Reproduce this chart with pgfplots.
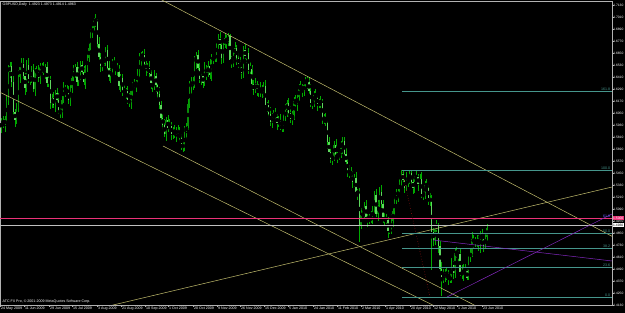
\documentclass[border=0pt]{standalone}
\usepackage{pgfplots}
\pgfplotsset{compat=1.18}
\usepackage{pgfplotstable}
\usepackage{fontspec}
\setmainfont{Liberation Sans}
\definecolor{wickc}{RGB}{0,170,0}
\definecolor{bullc}{RGB}{10,140,10}
\definecolor{bearc}{RGB}{95,215,95}
\definecolor{trendc}{RGB}{195,190,110}
\definecolor{fibc}{RGB}{70,150,140}
\definecolor{pinkc}{RGB}{235,50,120}
\definecolor{purpc}{RGB}{130,40,190}
\definecolor{redd}{RGB}{150,20,20}
\newcommand{\mtfont}{\fontsize{3.6}{4}\selectfont}
\newcommand{\prfont}{\fontsize{3.3}{4}\selectfont}
\pgfplotstableread{
i o h l c
0 1.5900 1.6000 1.5850 1.5960
1 1.5960 1.6020 1.5900 1.5930
2 1.5930 1.6020 1.5860 1.5990
3 1.5990 1.6220 1.5945 1.6170
4 1.6170 1.6530 1.6130 1.6460
5 1.6460 1.6555 1.6400 1.6520
6 1.6520 1.6560 1.6310 1.6360
7 1.6360 1.6420 1.6030 1.6060
8 1.6060 1.6090 1.5910 1.5980
9 1.5980 1.6150 1.5935 1.6100
10 1.6100 1.6480 1.6060 1.6410
11 1.6410 1.6545 1.6350 1.6510
12 1.6510 1.6600 1.6460 1.6540
13 1.6540 1.6600 1.6390 1.6420
14 1.6420 1.6450 1.6230 1.6300
15 1.6300 1.6580 1.6255 1.6530
16 1.6530 1.6600 1.6350 1.6390
17 1.6390 1.6435 1.6330 1.6400
18 1.6400 1.6520 1.6350 1.6480
19 1.6480 1.6540 1.6260 1.6290
20 1.6290 1.6500 1.6220 1.6470
21 1.6470 1.6520 1.6415 1.6460
22 1.6460 1.6530 1.6360 1.6400
23 1.6400 1.6545 1.6340 1.6510
24 1.6510 1.6550 1.6450 1.6500
25 1.6500 1.6560 1.6430 1.6460
26 1.6460 1.6540 1.6390 1.6510
27 1.6510 1.6560 1.6305 1.6350
28 1.6350 1.6450 1.6310 1.6380
29 1.6380 1.6415 1.6090 1.6150
30 1.6150 1.6240 1.6100 1.6200
31 1.6200 1.6260 1.6100 1.6130
32 1.6130 1.6280 1.6060 1.6250
33 1.6250 1.6300 1.6135 1.6180
34 1.6180 1.6250 1.6040 1.6080
35 1.6080 1.6115 1.6000 1.6050
36 1.6050 1.6220 1.6000 1.6180
37 1.6180 1.6360 1.6150 1.6300
38 1.6300 1.6330 1.6210 1.6280
39 1.6280 1.6330 1.6205 1.6250
40 1.6250 1.6320 1.6140 1.6180
41 1.6180 1.6335 1.6120 1.6300
42 1.6300 1.6440 1.6250 1.6400
43 1.6400 1.6530 1.6370 1.6470
44 1.6470 1.6540 1.6400 1.6510
45 1.6510 1.6560 1.6315 1.6360
46 1.6360 1.6510 1.6320 1.6440
47 1.6440 1.6565 1.6380 1.6530
48 1.6530 1.6570 1.6410 1.6460
49 1.6460 1.6520 1.6330 1.6360
50 1.6360 1.6530 1.6290 1.6500
51 1.6500 1.6650 1.6455 1.6600
52 1.6600 1.6770 1.6560 1.6700
53 1.6700 1.6885 1.6640 1.6850
54 1.6850 1.6940 1.6800 1.6900
55 1.6900 1.7000 1.6870 1.6980
56 1.6980 1.7035 1.6910 1.6970
57 1.6970 1.6990 1.6700 1.6740
58 1.6740 1.6810 1.6570 1.6610
59 1.6610 1.6645 1.6460 1.6520
60 1.6520 1.6590 1.6470 1.6550
61 1.6550 1.6650 1.6520 1.6590
62 1.6590 1.6710 1.6520 1.6680
63 1.6680 1.6730 1.6455 1.6500
64 1.6500 1.6570 1.6370 1.6410
65 1.6410 1.6515 1.6350 1.6480
66 1.6480 1.6590 1.6430 1.6550
67 1.6550 1.6610 1.6500 1.6530
68 1.6530 1.6560 1.6430 1.6500
69 1.6500 1.6550 1.6415 1.6460
70 1.6460 1.6530 1.6280 1.6320
71 1.6320 1.6435 1.6260 1.6400
72 1.6400 1.6440 1.6220 1.6270
73 1.6270 1.6330 1.6230 1.6260
74 1.6260 1.6300 1.6190 1.6270
75 1.6270 1.6320 1.6135 1.6180
76 1.6180 1.6250 1.6110 1.6150
77 1.6150 1.6305 1.6090 1.6270
78 1.6270 1.6360 1.6220 1.6320
79 1.6320 1.6390 1.6290 1.6330
80 1.6330 1.6390 1.6260 1.6360
81 1.6360 1.6490 1.6315 1.6440
82 1.6440 1.6650 1.6400 1.6580
83 1.6580 1.6655 1.6520 1.6620
84 1.6620 1.6670 1.6570 1.6630
85 1.6630 1.6690 1.6510 1.6540
86 1.6540 1.6570 1.6420 1.6490
87 1.6490 1.6550 1.6445 1.6500
88 1.6500 1.6570 1.6400 1.6440
89 1.6440 1.6475 1.6290 1.6350
90 1.6350 1.6390 1.6260 1.6310
91 1.6310 1.6480 1.6280 1.6420
92 1.6420 1.6450 1.6260 1.6330
93 1.6330 1.6380 1.6195 1.6240
94 1.6240 1.6310 1.6090 1.6130
95 1.6130 1.6165 1.5940 1.6000
96 1.6000 1.6040 1.5880 1.5930
97 1.5930 1.5990 1.5810 1.5840
98 1.5840 1.6010 1.5770 1.5980
99 1.5980 1.6030 1.5855 1.5900
100 1.5900 1.5990 1.5860 1.5920
101 1.5920 1.5955 1.5780 1.5840
102 1.5840 1.5910 1.5790 1.5870
103 1.5870 1.5930 1.5800 1.5830
104 1.5830 1.5910 1.5760 1.5880
105 1.5880 1.5930 1.5795 1.5840
106 1.5840 1.5910 1.5760 1.5800
107 1.5800 1.5835 1.5680 1.5740
108 1.5740 1.5780 1.5660 1.5700
109 1.5700 1.5920 1.5670 1.5860
110 1.5860 1.5950 1.5790 1.5920
111 1.5920 1.6190 1.5875 1.6140
112 1.6140 1.6370 1.6100 1.6300
113 1.6300 1.6405 1.6240 1.6370
114 1.6370 1.6410 1.6280 1.6330
115 1.6330 1.6620 1.6300 1.6560
116 1.6560 1.6660 1.6490 1.6630
117 1.6630 1.6680 1.6455 1.6500
118 1.6500 1.6570 1.6350 1.6390
119 1.6390 1.6455 1.6330 1.6420
120 1.6420 1.6460 1.6300 1.6350
121 1.6350 1.6560 1.6320 1.6500
122 1.6500 1.6530 1.6380 1.6450
123 1.6450 1.6570 1.6405 1.6520
124 1.6520 1.6590 1.6390 1.6430
125 1.6430 1.6635 1.6370 1.6600
126 1.6600 1.6640 1.6540 1.6590
127 1.6590 1.6690 1.6560 1.6630
128 1.6630 1.6760 1.6560 1.6730
129 1.6730 1.6840 1.6685 1.6790
130 1.6790 1.6860 1.6690 1.6730
131 1.6730 1.6765 1.6540 1.6600
132 1.6600 1.6770 1.6550 1.6730
133 1.6730 1.6850 1.6700 1.6800
134 1.6800 1.6830 1.6690 1.6760
135 1.6760 1.6850 1.6715 1.6820
136 1.6820 1.6840 1.6540 1.6580
137 1.6580 1.6615 1.6500 1.6560
138 1.6560 1.6680 1.6510 1.6640
139 1.6640 1.6760 1.6610 1.6700
140 1.6700 1.6730 1.6530 1.6600
141 1.6600 1.6650 1.6495 1.6540
142 1.6540 1.6610 1.6470 1.6510
143 1.6510 1.6545 1.6390 1.6450
144 1.6450 1.6720 1.6400 1.6680
145 1.6680 1.6740 1.6590 1.6620
146 1.6620 1.6680 1.6550 1.6650
147 1.6650 1.6700 1.6435 1.6480
148 1.6480 1.6560 1.6440 1.6490
149 1.6490 1.6525 1.6280 1.6340
150 1.6340 1.6380 1.6230 1.6280
151 1.6280 1.6400 1.6250 1.6340
152 1.6340 1.6370 1.6220 1.6290
153 1.6290 1.6340 1.6205 1.6250
154 1.6250 1.6360 1.6210 1.6290
155 1.6290 1.6325 1.6200 1.6260
156 1.6260 1.6360 1.6210 1.6320
157 1.6320 1.6380 1.6100 1.6130
158 1.6130 1.6160 1.6060 1.6130
159 1.6130 1.6180 1.5995 1.6040
160 1.6040 1.6110 1.5920 1.5960
161 1.5960 1.6045 1.5900 1.6010
162 1.6010 1.6080 1.5960 1.6040
163 1.6040 1.6100 1.5980 1.6010
164 1.6010 1.6040 1.5880 1.5950
165 1.5950 1.6020 1.5905 1.5970
166 1.5970 1.6040 1.5880 1.5920
167 1.5920 1.5955 1.5860 1.5900
168 1.5900 1.6040 1.5860 1.6000
169 1.6000 1.6140 1.5970 1.6080
170 1.6080 1.6180 1.6010 1.6150
171 1.6150 1.6200 1.6005 1.6050
172 1.6050 1.6120 1.5950 1.5990
173 1.5990 1.6065 1.5930 1.6030
174 1.6030 1.6210 1.5980 1.6170
175 1.6170 1.6230 1.6110 1.6140
176 1.6140 1.6240 1.6070 1.6210
177 1.6210 1.6340 1.6165 1.6290
178 1.6290 1.6370 1.6250 1.6300
179 1.6300 1.6335 1.6210 1.6270
180 1.6270 1.6370 1.6220 1.6330
181 1.6330 1.6410 1.6300 1.6390
182 1.6390 1.6420 1.6290 1.6360
183 1.6360 1.6410 1.6225 1.6270
184 1.6270 1.6340 1.6110 1.6150
185 1.6150 1.6195 1.6090 1.6160
186 1.6160 1.6270 1.6110 1.6230
187 1.6230 1.6290 1.6170 1.6200
188 1.6200 1.6230 1.6070 1.6140
189 1.6140 1.6190 1.6095 1.6140
190 1.6140 1.6220 1.6100 1.6150
191 1.6150 1.6185 1.5940 1.6000
192 1.6000 1.6040 1.5940 1.5990
193 1.5990 1.6050 1.5920 1.5950
194 1.5950 1.5980 1.5690 1.5760
195 1.5760 1.5810 1.5615 1.5660
196 1.5660 1.5730 1.5550 1.5590
197 1.5590 1.5655 1.5530 1.5620
198 1.5620 1.5770 1.5570 1.5730
199 1.5730 1.5790 1.5600 1.5630
200 1.5630 1.5660 1.5550 1.5620
201 1.5620 1.5690 1.5575 1.5640
202 1.5640 1.5770 1.5600 1.5700
203 1.5700 1.5805 1.5640 1.5770
204 1.5770 1.5810 1.5590 1.5640
205 1.5640 1.5700 1.5530 1.5560
206 1.5560 1.5590 1.5410 1.5480
207 1.5480 1.5530 1.5395 1.5440
208 1.5440 1.5510 1.5390 1.5430
209 1.5430 1.5465 1.5300 1.5360
210 1.5360 1.5440 1.5310 1.5400
211 1.5400 1.5460 1.5230 1.5260
212 1.5260 1.5290 1.5180 1.5250
213 1.5250 1.5300 1.4760 1.4930
214 1.4930 1.5100 1.4890 1.5030
215 1.5030 1.5075 1.4970 1.5040
216 1.5040 1.5160 1.4990 1.5120
217 1.5120 1.5180 1.4980 1.5010
218 1.5010 1.5040 1.4910 1.4980
219 1.4980 1.5040 1.4935 1.4990
220 1.4990 1.5070 1.4950 1.5000
221 1.5000 1.5115 1.4940 1.5080
222 1.5080 1.5270 1.5030 1.5230
223 1.5230 1.5290 1.5010 1.5040
224 1.5040 1.5180 1.4970 1.5150
225 1.5150 1.5310 1.5105 1.5260
226 1.5260 1.5330 1.5100 1.5140
227 1.5140 1.5175 1.4950 1.5010
228 1.5010 1.5050 1.4920 1.4970
229 1.4970 1.5040 1.4940 1.4980
230 1.4980 1.5010 1.4800 1.4870
231 1.4870 1.4930 1.4835 1.4880
232 1.4880 1.5040 1.4840 1.4970
233 1.4970 1.5105 1.4910 1.5070
234 1.5070 1.5210 1.5020 1.5170
235 1.5170 1.5290 1.5140 1.5230
236 1.5230 1.5290 1.5160 1.5260
237 1.5260 1.5410 1.5215 1.5360
238 1.5360 1.5480 1.5320 1.5440
239 1.5440 1.5475 1.5320 1.5380
240 1.5380 1.5420 1.5250 1.5300
241 1.5300 1.5460 1.5270 1.5400
242 1.5400 1.5430 1.5310 1.5380
243 1.5380 1.5475 1.5335 1.5450
244 1.5450 1.5470 1.5320 1.5360
245 1.5360 1.5395 1.5240 1.5300
246 1.5300 1.5420 1.5250 1.5380
247 1.5380 1.5470 1.5350 1.5410
248 1.5410 1.5440 1.5270 1.5340
249 1.5340 1.5440 1.5295 1.5390
250 1.5390 1.5460 1.5200 1.5240
251 1.5240 1.5275 1.5180 1.5240
252 1.5240 1.5370 1.5190 1.5330
253 1.5330 1.5390 1.5270 1.5300
254 1.5300 1.5330 1.5130 1.5200
255 1.5200 1.5250 1.5115 1.5160
256 1.5160 1.5230 1.4475 1.4860
257 1.4860 1.4895 1.4720 1.4780
258 1.4780 1.4930 1.4730 1.4890
259 1.4890 1.4980 1.4860 1.4920
260 1.4920 1.4950 1.4650 1.4720
261 1.4720 1.4770 1.4445 1.4490
262 1.4490 1.4560 1.4215 1.4410
263 1.4410 1.4485 1.4350 1.4450
264 1.4450 1.4490 1.4360 1.4410
265 1.4410 1.4510 1.4380 1.4450
266 1.4450 1.4480 1.4330 1.4400
267 1.4400 1.4450 1.4345 1.4390
268 1.4390 1.4600 1.4350 1.4530
269 1.4530 1.4565 1.4390 1.4450
270 1.4450 1.4690 1.4400 1.4650
271 1.4650 1.4710 1.4600 1.4630
272 1.4630 1.4670 1.4560 1.4640
273 1.4640 1.4690 1.4415 1.4460
274 1.4460 1.4530 1.4390 1.4430
275 1.4430 1.4535 1.4370 1.4500
276 1.4500 1.4540 1.4420 1.4470
277 1.4470 1.4530 1.4380 1.4400
278 1.4400 1.4640 1.4380 1.4610
279 1.4610 1.4700 1.4560 1.4650
280 1.4650 1.4860 1.4610 1.4790
281 1.4790 1.4825 1.4700 1.4760
282 1.4760 1.4810 1.4710 1.4770
283 1.4770 1.4830 1.4710 1.4740
284 1.4740 1.4830 1.4670 1.4800
285 1.4800 1.4870 1.4650 1.4820
286 1.4820 1.4890 1.4750 1.4790
287 1.4790 1.4825 1.4660 1.4720
288 1.4720 1.4850 1.4690 1.4810
289 1.4810 1.4935 1.4770 1.4900
}\candles
\begin{document}
\begin{tikzpicture}
\fill[black] (0pt,0pt) rectangle (625pt,313pt);
\useasboundingbox (0pt,0pt) rectangle (625pt,313pt);
\begin{axis}[
  at={(0pt,8pt)}, anchor=south west,
  scale only axis, width=612pt, height=304pt,
  xmin=0, xmax=612, ymin=1.4130, ymax=1.7170,
  axis background/.style={fill=black},
  axis line style={draw=white!70!black, line width=0.5pt},
  clip mode=individual,
  tick align=outside, major tick length=2pt,
  tick style={draw=white!70!black, line width=0.4pt},
  xtick pos=bottom, ytick pos=right,
  yticklabel pos=right,
  xtick={0,24,49,72,97,121,145,168,193,217,240,264,288,313,337,361,385,410,433,457,482},
  xticklabels={24 May 2009,11 Jun 2009,29 Jun 2009,15 Jul 2009,3 Aug 2009,21 Aug 2009,10 Sep 2009,1 Oct 2009,20 Oct 2009,9 Nov 2009,26 Nov 2009,15 Dec 2009,5 Jan 2010,24 Jan 2010,11 Feb 2010,2 Mar 2010,1 Apr 2010,20 Apr 2010,12 May 2010,1 Jun 2010,23 Jun 2010},
  xticklabel style={anchor=north west, font=\mtfont, text=white, inner sep=0.4pt, xshift=0.6pt, yshift=1.2pt, text height=2.7pt, text depth=0.8pt},
  ytick={1.4130,1.4250,1.4370,1.4490,1.4610,1.4730,1.4850,1.4970,1.5090,1.5210,1.5330,1.5450,1.5570,1.5690,1.5810,1.5930,1.6050,1.6170,1.6290,1.6410,1.6530,1.6650,1.6770,1.6890,1.7010,1.7130},
  yticklabel style={anchor=west, font=\prfont, text=white, inner sep=0.3pt, xshift=-1.2pt,
    /pgf/number format/.cd, fixed, fixed zerofill, precision=4, assume math mode=true},
]
% wicks
\addplot[only marks, mark=none, forget plot,
  error bars/.cd, y dir=both, y explicit, error mark=none,
  error bar style={line width=0.6pt, draw=wickc}]
  table[x expr=1.68*\thisrow{i}+1.5, y expr=0.5*(\thisrow{h}+\thisrow{l}), y error expr=0.5*(\thisrow{h}-\thisrow{l})] {\candles};
% bull bodies
\addplot[only marks, mark=none, forget plot, unbounded coords=discard,
  error bars/.cd, y dir=both, y explicit, error mark=none,
  error bar style={line width=1.35pt, draw=bullc}]
  table[x expr=1.68*\thisrow{i}+1.5, y expr={\thisrow{c}>=\thisrow{o} ? 0.5*(\thisrow{o}+\thisrow{c}) : nan}, y error expr={0.5*abs(\thisrow{c}-\thisrow{o})+0.0003}] {\candles};
% bear bodies
\addplot[only marks, mark=none, forget plot, unbounded coords=discard,
  error bars/.cd, y dir=both, y explicit, error mark=none,
  error bar style={line width=1.35pt, draw=bearc}]
  table[x expr=1.68*\thisrow{i}+1.5, y expr={\thisrow{c}<\thisrow{o} ? 0.5*(\thisrow{o}+\thisrow{c}) : nan}, y error expr={0.5*abs(\thisrow{c}-\thisrow{o})+0.0003}] {\candles};
% trend lines
\addplot[trendc, line width=0.5pt] coordinates {(160,1.7190) (612,1.4817)};
\addplot[trendc, line width=0.5pt] coordinates {(0,1.6257) (440,1.4094)};
\addplot[trendc, line width=0.5pt] coordinates {(163,1.5720) (480,1.4100)};
\addplot[trendc, line width=0.5pt] coordinates {(100,1.4099) (612,1.5310)};
% horizontal lines
\addplot[pinkc, line width=0.6pt] coordinates {(0,1.5000) (612,1.5000)};
\addplot[white!75!black, line width=0.4pt] coordinates {(0,1.4930) (612,1.4930)};
% fibonacci
\addplot[redd, dotted, line width=0.6pt] coordinates {(402,1.5480) (430,1.4210)};
\addplot[fibc, line width=0.5pt] coordinates {(402,1.6265) (612,1.6265)};
\addplot[fibc, line width=0.5pt] coordinates {(402,1.5480) (612,1.5480)};
\addplot[fibc, line width=0.5pt] coordinates {(402,1.4845) (612,1.4845)};
\addplot[fibc, line width=0.5pt] coordinates {(402,1.4695) (612,1.4695)};
\addplot[fibc, line width=0.5pt] coordinates {(402,1.4510) (612,1.4510)};
\addplot[fibc, line width=0.5pt] coordinates {(402,1.4210) (612,1.4210)};
% purple lines
\addplot[purpc, line width=0.5pt] coordinates {(433,1.4780) (612,1.4570)};
\addplot[purpc, line width=0.5pt] coordinates {(447,1.4210) (612,1.5040)};
% fib labels
\begin{scope}[every node/.style={font=\mtfont, text=fibc, anchor=south east, inner sep=0.6pt}]
\node at (axis cs:611,1.6265) {161.8};
\node at (axis cs:611,1.5480) {100.0};
\node[text=blue!60!white] at (axis cs:611,1.5000) {61.8};
\node at (axis cs:611,1.4845) {50.0};
\node at (axis cs:611,1.4695) {38.2};
\node at (axis cs:611,1.4510) {23.6};
\node at (axis cs:611,1.4210) {0.0};
\end{scope}
% price boxes
\node[fill=pinkc, text=white, font=\prfont, anchor=west, inner sep=0.5pt] at (axis cs:612.5,1.5000) {1.5000};
\node[fill=white, text=black, font=\prfont, anchor=west, inner sep=0.5pt] at (axis cs:612.5,1.4930) {1.4930};
% texts
\node[font=\mtfont, text=white, anchor=north west, inner sep=0.5pt] at (axis cs:2,1.7160) {GBPUSD,Daily\ \ 1.4923 1.4973 1.4914 1.4963};
\node[font=\mtfont, text=white, anchor=south west, inner sep=0.5pt] at (axis cs:2,1.4145) {ATC FX Pro, \textcopyright{} 2001-2009 MetaQuotes Software Corp.};
\end{axis}
\end{tikzpicture}
\end{document}
